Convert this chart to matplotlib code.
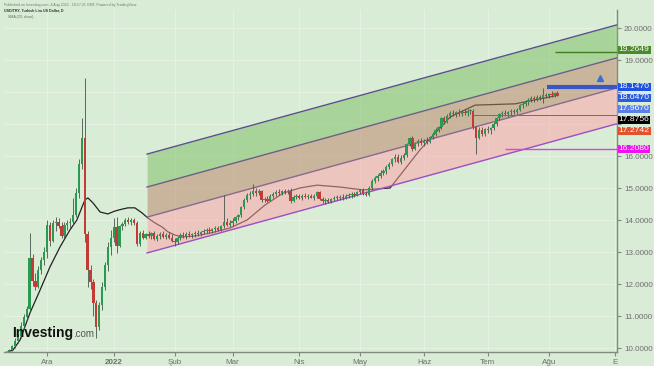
import matplotlib.pyplot as plt
from matplotlib.ticker import FixedLocator, FixedFormatter

plt.rcParams["font.family"] = ["Liberation Sans", "DejaVu Sans"]

# bar index 0 = 1 Dec 2021, one slot per trading day
first_bar = -14

opens = [
    9.80, 9.88, 9.94, 10.05, 10.22, 10.38, 10.70, 10.98, 11.22, 12.80,
    12.08, 11.92, 12.45, 12.75,
    13.00, 13.85, 13.35, 13.90, 13.95, 13.82, 13.50, 13.85, 13.90, 13.95,
    14.15, 14.85, 15.75, 16.55, 13.55, 12.45, 12.05, 11.40, 10.65, 11.35,
    11.90, 12.60, 13.15, 13.45, 13.78, 13.20, 13.80, 13.88, 14.00, 13.95,
    14.00, 13.92, 13.25, 13.60, 13.45, 13.55, 13.50, 13.58, 13.42, 13.50,
    13.55, 13.48, 13.52, 13.45, 13.35, 13.30, 13.45, 13.52, 13.50, 13.57,
    13.52, 13.55, 13.60, 13.56, 13.62, 13.65, 13.70, 13.66, 13.72, 13.74,
    13.70, 13.80, 13.95, 13.85, 13.90, 13.98, 14.08, 14.15, 14.40, 14.62,
    14.78, 14.82, 14.92, 14.85, 14.90, 14.62, 14.65, 14.60, 14.75, 14.82,
    14.88, 14.85, 14.90, 14.86, 14.92, 14.58, 14.72, 14.74, 14.70, 14.76,
    14.72, 14.75, 14.70, 14.74, 14.86, 14.66, 14.58, 14.62, 14.56, 14.66,
    14.70, 14.68, 14.72, 14.70, 14.76, 14.78, 14.80, 14.78, 14.88, 14.94,
    14.82, 14.78, 15.00, 15.22, 15.30, 15.38, 15.48, 15.52, 15.66, 15.74,
    15.90, 15.98, 15.82, 15.95, 16.02, 16.38, 16.55, 16.22, 16.40, 16.46,
    16.42, 16.48, 16.45, 16.58, 16.70, 16.82, 16.90, 17.18, 17.06, 17.25,
    17.35, 17.30, 17.36, 17.32, 17.38, 17.34, 17.40, 17.42, 16.90, 16.56,
    16.82, 16.70, 16.84, 16.80, 16.86, 17.00, 17.18, 17.30, 17.34, 17.30,
    17.36, 17.40, 17.36, 17.45, 17.58, 17.64, 17.68, 17.76, 17.80, 17.78,
    17.85, 17.82, 17.90, 17.86, 17.94, 17.90, 17.96,
]
highs = [
    9.92, 9.98, 10.10, 10.30, 10.45, 10.80, 11.05, 11.30, 13.60, 12.95,
    12.35, 12.55, 12.85, 13.15,
    14.00, 13.95, 14.00, 14.10, 14.05, 13.95, 13.95, 14.00, 14.05, 14.70,
    15.00, 15.90, 17.20, 18.44, 13.65, 12.60, 12.15, 11.50, 11.45, 12.05,
    12.70, 13.30, 13.70, 14.06, 14.10, 13.85, 13.95, 14.05, 14.08, 14.05,
    14.05, 13.98, 13.65, 13.70, 13.60, 13.65, 13.62, 13.66, 13.55, 13.62,
    13.65, 13.60, 13.62, 13.55, 13.45, 13.50, 13.58, 13.62, 13.62, 13.65,
    13.60, 13.65, 13.68, 13.66, 13.72, 13.75, 13.78, 13.76, 13.80, 13.82,
    13.85, 14.78, 14.05, 14.00, 14.05, 14.12, 14.20, 14.45, 14.70, 14.85,
    14.90, 15.12, 15.00, 14.98, 14.95, 14.72, 14.75, 14.82, 14.88, 14.95,
    14.96, 14.95, 14.98, 14.97, 15.00, 14.78, 14.80, 14.82, 14.80, 14.84,
    14.80, 14.82, 14.80, 14.90, 14.92, 14.72, 14.68, 14.70, 14.70, 14.74,
    14.78, 14.78, 14.80, 14.82, 14.84, 14.86, 14.88, 14.92, 14.98, 15.00,
    14.92, 15.05, 15.28, 15.38, 15.45, 15.55, 15.60, 15.72, 15.80, 15.95,
    16.05, 16.05, 16.02, 16.08, 16.42, 16.60, 16.62, 16.45, 16.52, 16.55,
    16.52, 16.58, 16.62, 16.75, 16.88, 16.95, 17.22, 17.25, 17.30, 17.42,
    17.45, 17.42, 17.46, 17.44, 17.48, 17.46, 17.48, 17.48, 16.95, 16.90,
    16.92, 16.88, 16.95, 16.92, 17.05, 17.22, 17.35, 17.42, 17.44, 17.42,
    17.46, 17.48, 17.50, 17.62, 17.70, 17.74, 17.82, 17.86, 17.88, 17.90,
    17.92, 18.12, 17.98, 17.98, 18.02, 18.00, 18.04,
]
lows = [
    9.75, 9.84, 9.90, 10.00, 10.15, 10.30, 10.60, 10.90, 11.15, 11.95,
    11.80, 11.88, 12.30, 12.60,
    12.80, 13.20, 13.30, 13.65, 13.75, 13.45, 13.45, 13.70, 13.75, 13.85,
    14.10, 14.70, 15.60, 13.30, 11.90, 11.85, 11.00, 10.30, 10.55, 11.20,
    11.80, 12.40, 12.90, 13.30, 12.97, 13.15, 13.70, 13.80, 13.88, 13.85,
    13.85, 13.20, 13.20, 13.40, 13.40, 13.45, 13.40, 13.38, 13.35, 13.42,
    13.45, 13.40, 13.42, 13.30, 13.18, 13.25, 13.38, 13.45, 13.42, 13.47,
    13.45, 13.48, 13.50, 13.50, 13.55, 13.58, 13.60, 13.60, 13.64, 13.66,
    13.65, 13.75, 13.80, 13.78, 13.82, 13.90, 14.00, 14.10, 14.35, 14.55,
    14.65, 14.75, 14.75, 14.78, 14.55, 14.55, 14.55, 14.58, 14.70, 14.75,
    14.78, 14.78, 14.80, 14.80, 14.52, 14.55, 14.65, 14.66, 14.64, 14.68,
    14.65, 14.68, 14.64, 14.70, 14.62, 14.52, 14.50, 14.52, 14.54, 14.58,
    14.62, 14.62, 14.64, 14.66, 14.70, 14.70, 14.72, 14.74, 14.80, 14.78,
    14.74, 14.75, 14.95, 15.15, 15.22, 15.30, 15.40, 15.45, 15.58, 15.68,
    15.82, 15.78, 15.76, 15.88, 15.98, 16.30, 16.15, 16.18, 16.32, 16.35,
    16.32, 16.38, 16.40, 16.52, 16.64, 16.74, 16.85, 17.00, 17.02, 17.18,
    17.24, 17.22, 17.26, 17.24, 17.28, 17.26, 17.30, 16.85, 16.05, 16.52,
    16.62, 16.62, 16.72, 16.70, 16.80, 16.95, 17.12, 17.22, 17.24, 17.22,
    17.28, 17.30, 17.30, 17.40, 17.50, 17.55, 17.60, 17.68, 17.70, 17.72,
    17.74, 17.66, 17.80, 17.82, 17.85, 17.84, 17.86,
]
closes = [
    9.88, 9.94, 10.05, 10.22, 10.38, 10.70, 10.98, 11.22, 12.80, 12.08,
    11.92, 12.45, 12.75, 13.00,
    13.85, 13.35, 13.90, 13.95, 13.82, 13.50, 13.85, 13.90, 13.95, 14.15,
    14.85, 15.75, 16.55, 13.55, 12.45, 12.05, 11.40, 10.65, 11.35, 11.90,
    12.60, 13.15, 13.45, 13.78, 13.20, 13.80, 13.88, 14.00, 13.95, 14.00,
    13.92, 13.25, 13.60, 13.45, 13.55, 13.50, 13.58, 13.42, 13.50, 13.55,
    13.48, 13.52, 13.45, 13.35, 13.30, 13.45, 13.52, 13.50, 13.57, 13.52,
    13.55, 13.60, 13.56, 13.62, 13.65, 13.70, 13.66, 13.72, 13.74, 13.70,
    13.80, 13.95, 13.85, 13.90, 13.98, 14.08, 14.15, 14.40, 14.62, 14.78,
    14.82, 14.92, 14.85, 14.90, 14.62, 14.65, 14.60, 14.75, 14.82, 14.88,
    14.85, 14.90, 14.86, 14.92, 14.58, 14.72, 14.74, 14.70, 14.76, 14.72,
    14.75, 14.70, 14.74, 14.86, 14.66, 14.58, 14.62, 14.56, 14.66, 14.70,
    14.68, 14.72, 14.70, 14.76, 14.78, 14.80, 14.78, 14.88, 14.94, 14.82,
    14.78, 15.00, 15.22, 15.30, 15.38, 15.48, 15.52, 15.66, 15.74, 15.90,
    15.98, 15.82, 15.95, 16.02, 16.38, 16.55, 16.22, 16.40, 16.46, 16.42,
    16.48, 16.45, 16.58, 16.70, 16.82, 16.90, 17.18, 17.06, 17.25, 17.35,
    17.30, 17.36, 17.32, 17.38, 17.34, 17.40, 17.42, 16.90, 16.56, 16.82,
    16.70, 16.84, 16.80, 16.86, 17.00, 17.18, 17.30, 17.34, 17.30, 17.36,
    17.40, 17.36, 17.45, 17.58, 17.64, 17.68, 17.76, 17.80, 17.78, 17.85,
    17.82, 17.90, 17.86, 17.94, 17.90, 17.96, 17.88,
]

# moving average line at a few bars
ma_bar = [-13.4, -11.7, -9.3, -5.9, -2.4, 1.0, 4.5, 7.9, 10.3, 12.1, 13.1, 14.1,
          15.9, 18.3, 21.0, 23.4, 25.9, 27.9, 30.3, 32.8, 34.8, 37.2, 39.7,
          41.7, 44.1, 46.6, 51.0, 56.2, 63.1, 69.0, 75.2, 81.4, 87.2, 93.1,
          101.0, 109.0, 118.3, 128.6, 139.0, 147.6, 161.4, 175.2]
ma_val = [9.88, 9.94, 10.25, 11.09, 11.81, 12.53, 13.16, 13.69, 14.00, 14.41,
          14.63, 14.69, 14.53, 14.25, 14.19, 14.28, 14.34, 14.38, 14.38, 14.22,
          14.06, 13.91, 13.78, 13.63, 13.53, 13.47, 13.50, 13.59, 13.75, 14.00,
          14.47, 14.84, 15.00, 15.09, 15.03, 14.94, 15.00, 16.19, 17.22, 17.59,
          17.63, 17.88]

# price channel: 4 parallel lines (top -> bottom)
chan_x = [34.5, 196.6]
chan_start = [16.06, 15.03, 14.09, 12.97]
chan_end = [20.10, 19.07, 18.13, 17.01]

month_bars = [0, 23, 44, 64, 87, 108, 130, 152, 173, 196]
month_labels = ["Ara", "2022", "Şub", "Mar", "Nis", "May", "Haz", "Tem", "Ağu", "E"]

price_ticks = [10, 11, 12, 13, 14, 15, 16, 17, 18, 19, 20]
# 17 and 18 sit fully behind the level labels
price_tick_labels = ["10.0000", "11.0000", "12.0000", "13.0000", "14.0000",
                     "15.0000", "16.0000", "", "", "19.0000", "20.0000"]

level_vals = [19.2649, 18.1470, 18.0470, 17.9670, 17.8756, 17.2742, 16.2080]
level_cols = ["#4b8a2b", "#1f52e0", "#2b5ce0", "#5a80e6", "#000000", "#e0532e", "#f010f0"]
level_ypx = [50, 87, 98, 109, 120, 131, 149]

BG = "#d9ecd6"
UP = "#2a9a52"
DOWN = "#c23c35"


def draw_candles(ax):
    xs = list(range(first_bar, first_bar + len(closes)))
    ax.vlines(xs, lows, highs, color="#44534a", lw=0.6, zorder=3.5)
    bottoms, heights, cols = [], [], []
    for o, c in zip(opens, closes):
        bottoms.append(min(o, c))
        heights.append(max(abs(c - o), 0.03))
        cols.append(UP if c >= o else DOWN)
    ax.bar(xs, heights, bottom=bottoms, width=0.78, color=cols, lw=0, zorder=3.6)


def draw_channel(ax):
    fills = ["#78bd5f", "#b98062", "#ffa2a8"]
    for k in range(3):
        ax.fill_between(chan_x, [chan_start[k], chan_end[k]],
                        [chan_start[k + 1], chan_end[k + 1]],
                        color=fills[k], alpha=0.5, lw=0, zorder=3)
    line_cols = ["#5b4f8e", "#6e5d86", "#8a6a8f", "#9c50c4"]
    for k in range(4):
        ax.plot(chan_x, [chan_start[k], chan_end[k]], color=line_cols[k],
                lw=1.0, zorder=3.2)


def main():
    fig = plt.figure(figsize=(6.54, 3.66), dpi=100, facecolor=BG)
    ax = fig.add_axes([4 / 654, 1 - 352 / 366, 613 / 654, 342 / 366])
    ax.set_facecolor(BG)

    ax.plot(ma_bar, ma_val, color="#222222", lw=0.9, zorder=2.5)
    draw_channel(ax)
    draw_candles(ax)

    # horizontal levels
    ax.hlines(19.2649, 175, 200, color="#3f7d20", lw=1.0, zorder=4)
    ax.hlines(18.1470, 172.5, 200, color="#3a55c4", lw=3.0, zorder=4)
    ax.hlines(17.2742, 147, 200, color="#c0503a", lw=0.7, zorder=4)
    ax.hlines(16.2080, 158, 200, color="#e33ee3", lw=1.0, zorder=4)
    ax.plot([0.972], [0.80], marker="^", ms=4, color="#3a6fd8",
            transform=ax.transAxes, zorder=5)

    ax.set_xlim(-14.83, 196.55)
    ax.set_ylim(9.875, 20.5625)

    ax.yaxis.tick_right()
    ax.yaxis.set_major_locator(FixedLocator(price_ticks))
    ax.yaxis.set_major_formatter(FixedFormatter(price_tick_labels))
    ax.xaxis.set_major_locator(FixedLocator(month_bars))
    ax.set_xticklabels(month_labels)
    ax.get_xticklabels()[1].set_fontweight("bold")
    ax.tick_params(axis="both", length=3, width=0.8, color="#7d8c7b",
                   labelsize=5.8, labelcolor="#6f6f6f", pad=2)
    ax.grid(True, color="#e7f2e4", lw=0.7)
    ax.set_axisbelow(True)
    for side in ("top", "left"):
        ax.spines[side].set_visible(False)
    for side in ("right", "bottom"):
        ax.spines[side].set_color("#7d8c7b")
        ax.spines[side].set_linewidth(1.0)

    for val, col, ypx in zip(level_vals, level_cols, level_ypx):
        ax.text(1.003, 1 - (ypx - 10) / 342, f"{val:.4f}", transform=ax.transAxes,
                ha="left", va="center", fontsize=6.1, color="white", zorder=6,
                bbox=dict(boxstyle="square,pad=0.1", fc=col, ec="none"),
                clip_on=False)

    # logo and header
    ax.text(0.013, 0.045, "Investing", transform=ax.transAxes, fontsize=10,
            fontweight="bold", color="#111111", zorder=6)
    ax.text(0.113, 0.045, ".com", transform=ax.transAxes, fontsize=7,
            color="#555555", zorder=6)
    fig.text(0.006, 0.985, "Published on Investing.com, 4 Aug 2022 - 10:17:21 GMT, Powered by TradingView.",
             fontsize=2.6, color="#777777", va="center")
    fig.text(0.006, 0.972, "USD/TRY, Turkish Lira US Dollar, D", fontsize=2.6,
             color="#333333", fontweight="bold", va="center")
    fig.text(0.012, 0.953, "SMA (20, close)", fontsize=2.6, color="#666666", va="center")

    fig.savefig("out.png", dpi=100, facecolor=BG)


if __name__ == "__main__":
    main()
